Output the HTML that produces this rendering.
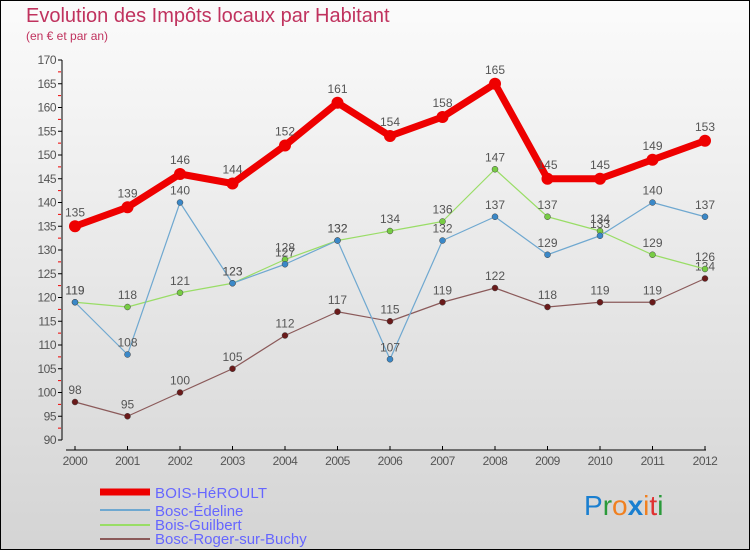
<!DOCTYPE html>
<html><head><meta charset="utf-8"><style>
body{margin:0}
#c{width:750px;height:550px;position:relative;overflow:hidden;background:linear-gradient(#fbfbfb,#d4d4d4);font-family:"Liberation Sans",sans-serif}
</style></head><body>
<div id="c">
<svg id="s" width="750" height="550" xmlns="http://www.w3.org/2000/svg" style="position:absolute;left:0;top:0">
<rect x="0.5" y="0.5" width="749" height="549" fill="none" stroke="#000"/>
<text x="26" y="22" font-size="20" fill="#c0325e">Evolution des Impôts locaux par Habitant</text>
<text x="26" y="40" font-size="12" fill="#c0325e">(en € et par an)</text>
<g id="axes"></g><g id="series"></g>
<g>
<line x1="100" y1="492" x2="150" y2="492" stroke="#e00" stroke-width="7"/>
<text x="155" y="498" font-size="15" fill="#6666ff" textLength="112">BOIS-HéROULT</text>
<line x1="100" y1="510" x2="150" y2="510" stroke="#6fa8d0" stroke-width="2"/>
<text x="155" y="516" font-size="15" fill="#6666ff">Bosc-Édeline</text>
<line x1="100" y1="525" x2="150" y2="525" stroke="#99dd66" stroke-width="2"/>
<text x="155" y="530" font-size="15" fill="#6666ff">Bois-Guilbert</text>
<line x1="100" y1="539" x2="150" y2="539" stroke="#8b5a5a" stroke-width="2"/>
<text x="155" y="544" font-size="15" fill="#6666ff">Bosc-Roger-sur-Buchy</text>
</g>
<text x="584" y="515" font-size="28"><tspan fill="#1a7fd0">P</tspan><tspan fill="#2a9a3a">r</tspan><tspan fill="#f08020">o</tspan><tspan fill="#1a7fd0" font-weight="bold">x</tspan><tspan fill="#f08020">i</tspan><tspan fill="#e03030">t</tspan><tspan fill="#2a9a3a">i</tspan></text>
</svg>
</div>
<script>
const years=[2000,2001,2002,2003,2004,2005,2006,2007,2008,2009,2010,2011,2012];
const boisHeroult=[135,139,146,144,152,161,154,158,165,145,145,149,153];
const boscEdeline=[119,108,140,123,127,132,107,132,137,129,133,140,137];
const boisGuilbert=[119,118,121,123,128,132,134,136,147,137,134,129,126];
const boscRoger=[98,95,100,105,112,117,115,119,122,118,119,119,124];
const yTicks=[90,95,100,105,110,115,120,125,130,135,140,145,150,155,160,165,170];
const NS="http://www.w3.org/2000/svg";
const X=i=>75+i*(705-75)/(years.length-1);
const Y=v=>440-(v-90)*380/80;
function mk(t,a,p){const e=document.createElementNS(NS,t);for(const k in a)e.setAttribute(k,a[k]);p.appendChild(e);return e;}
const ax=document.getElementById('axes'),sg=document.getElementById('series');
let l=mk('line',{x1:62,y1:Y(170),x2:62,y2:Y(90),stroke:'#000'},ax);


yTicks.forEach(v=>{
 mk('line',{x1:58,y1:Y(v),x2:62,y2:Y(v),stroke:'#000'},ax);
 mk('line',{x1:58,y1:Y(v+2.5),x2:61,y2:Y(v+2.5),stroke:v<170?'#e00':'none'},ax);
 const t=mk('text',{x:56,y:Y(v)+4,'font-size':12,fill:'#555','text-anchor':'end','letter-spacing':'-0.5'},ax);
 t.textContent=v;
 
 
});
l=mk('line',{x1:66,y1:450,x2:706,y2:450,stroke:'#000'},ax);


years.forEach((y,i)=>{
 mk('line',{x1:X(i),y1:446,x2:X(i),y2:450,stroke:'#000'},ax);
 const t=mk('text',{x:X(i),y:465,'font-size':12,fill:'#555','text-anchor':'middle','letter-spacing':'-0.5'},ax);
 t.textContent=y;
 
 
});
function series(d,col,w,r,dot,name){
 const g=mk('g',{},sg);
 
 
 const p=mk('polyline',{points:d.map((v,i)=>X(i)+','+Y(v)).join(' '),fill:'none',stroke:col,'stroke-width':w,'stroke-linejoin':'round'},g);
 
 
 d.forEach((v,i)=>{
  const c=mk('circle',{cx:X(i),cy:Y(v),r:r,fill:dot,stroke:'#444','stroke-width':w>3?0:0.5},g);
  
  
  const t=mk('text',{x:X(i),y:Y(v)-(w>3?10:8),'font-size':12,fill:'#555','text-anchor':'middle'},g);
  t.textContent=v;
  
  
 });
}
series(boscRoger,'#8b5a5a',1.2,3,'#6a1a1a','bosc-roger');
series(boisGuilbert,'#99dd66',1.2,3,'#77cc44','bois-guilbert');
series(boscEdeline,'#6fa8d0',1.2,3,'#3a88c8','bosc-edeline');
series(boisHeroult,'#ee0000',7,6,'#ee0000','bois-heroult');
</script>
</body></html>
